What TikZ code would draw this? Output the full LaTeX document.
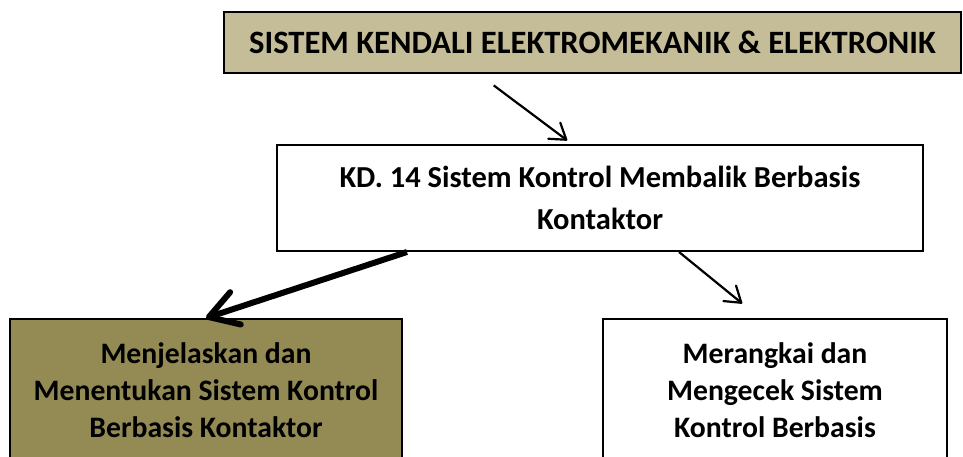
\documentclass[tikz,border=0pt]{standalone}
\usepackage{fontspec}
\setmainfont{Carlito}
\usetikzlibrary{arrows.meta}
\definecolor{tanbox}{HTML}{C4BD97}
\definecolor{olivebox}{HTML}{948A54}

\begin{document}
\begin{tikzpicture}[x=1pt,y=-1pt,
    box/.style={draw, line width=2pt, align=center, inner sep=0pt,
      font=\bfseries\fontsize{29.7}{37}\selectfont},
    link/.style={-{Straight Barb[length=15pt,width=20pt,round]}, line width=2.2pt}]
  \useasboundingbox (0,0) rectangle (963,457);
  \clip (0,0) rectangle (963,457);
  \node[box, fill=tanbox, minimum width=737pt, minimum height=61pt,
    font=\bfseries\fontsize{32.6}{36}\selectfont] (sistem) at (592.5,42.5)
    {SISTEM KENDALI ELEKTROMEKANIK \& ELEKTRONIK};
  \node[box, minimum width=646pt, minimum height=106pt,
    font=\bfseries\fontsize{30.5}{42}\selectfont] (kd) at (600,198)
    {KD. 14 Sistem Kontrol Membalik Berbasis\\Kontaktor};
  \node[box, fill=olivebox, minimum width=392pt, minimum height=142pt] (jelas) at (206,390)
    {Menjelaskan dan\\Menentukan Sistem Kontrol\\Berbasis Kontaktor};
  \node[box, minimum width=344pt, minimum height=142pt] (rangkai) at (775,390)
    {Merangkai dan\\Mengecek Sistem\\Kontrol Berbasis};
  \draw[link, shorten <=19pt, shorten >=6pt] ([xshift=-114pt]sistem.south) -- ([xshift=-28pt]kd.north);
  \draw[line width=6pt, -{Straight Barb[length=28pt,width=34pt,round]}] ([xshift=-193pt]kd.south) -- (jelas.north);
  \draw[link, shorten >=23pt] ([xshift=79pt]kd.south) -- ([xshift=-15pt]rangkai.north);
\end{tikzpicture}
\end{document}
